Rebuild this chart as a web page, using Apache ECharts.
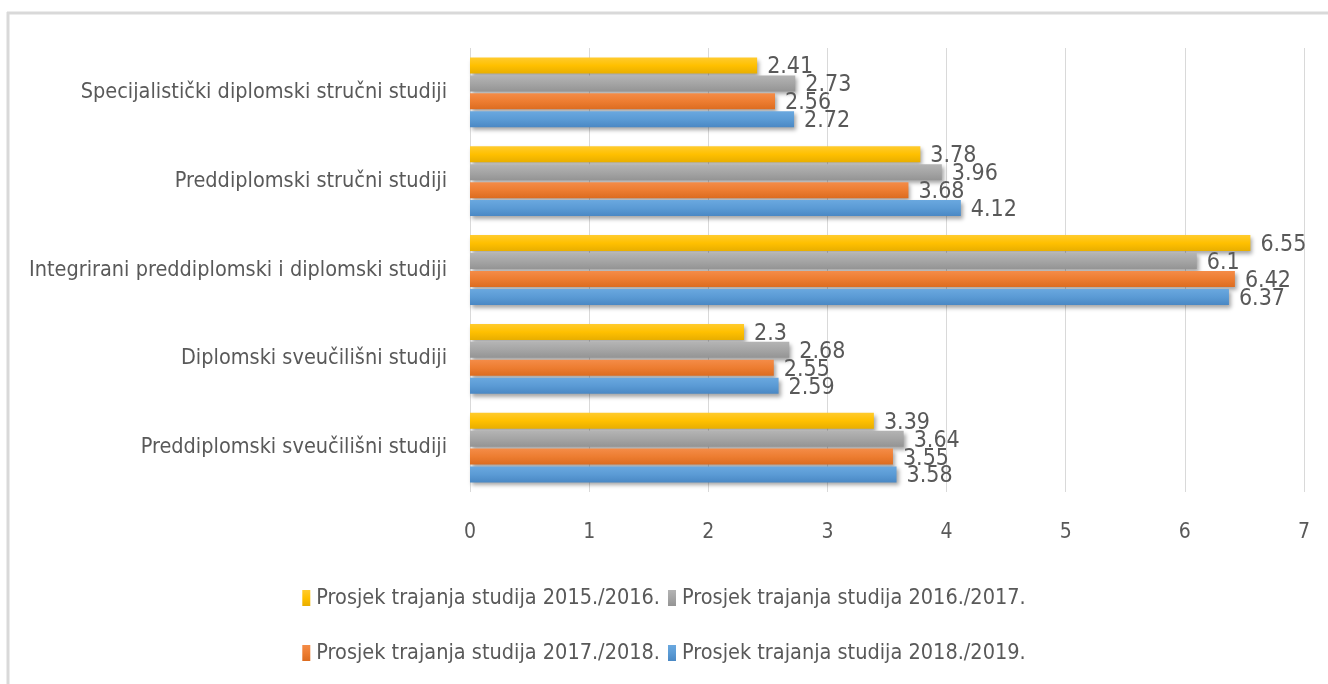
<!DOCTYPE html>
<html>
<head>
<meta charset="utf-8">
<script src="https://cdn.jsdelivr.net/npm/echarts@6/dist/echarts.min.js"></script>
<style>
html,body{margin:0;padding:0;background:#fff;}
#c{width:1328px;height:684px;}
</style>
</head>
<body>
<div id="c"></div>
<script>
// categories bottom -> top (ECharts category yAxis starts at bottom)
const categories = [
  'Preddiplomski sveučilišni studiji',
  'Diplomski sveučilišni studiji',
  'Integrirani preddiplomski i diplomski studiji',
  'Preddiplomski stručni studiji',
  'Specijalistički diplomski stručni studiji'
];
const seriesNames = [
  'Prosjek trajanja studija 2015./2016.',
  'Prosjek trajanja studija 2016./2017.',
  'Prosjek trajanja studija 2017./2018.',
  'Prosjek trajanja studija 2018./2019.'
];
const v2015 = [3.39, 2.3, 6.55, 3.78, 2.41];
const v2016 = [3.64, 2.68, 6.1, 3.96, 2.73];
const v2017 = [3.55, 2.55, 6.42, 3.68, 2.56];
const v2018 = [3.58, 2.59, 6.37, 4.12, 2.72];
const xTicks = [0, 1, 2, 3, 4, 5, 6, 7];

const FONT = '"Liberation Sans Narrow", "DejaVu Sans Condensed", "Liberation Sans", sans-serif';
const TXT = '#595959';

function grad(top, mid, bottom) {
  return new echarts.graphic.LinearGradient(0, 0, 0, 1, [
    {offset: 0, color: top}, {offset: 0.5, color: mid}, {offset: 1, color: bottom}
  ]);
}
const styles = [
  grad('#ffcb2e', '#ffc000', '#e8ae00'),
  grad('#b4b4b4', '#a5a5a5', '#949494'),
  grad('#f48c48', '#ed7d31', '#dc6c20'),
  grad('#6aa8df', '#5b9bd5', '#4a88c4')
];
const data = [v2015, v2016, v2017, v2018];

function mk(i) {
  return {
    name: seriesNames[i],
    type: 'bar',
    data: data[i],
    barWidth: 16,
    barGap: '12%',
    itemStyle: {
      color: styles[i],
      shadowColor: 'rgba(0,0,0,0.35)',
      shadowBlur: 4,
      shadowOffsetX: 2,
      shadowOffsetY: 3
    },
    label: {
      show: true,
      position: 'right',
      distance: 10,
      color: TXT,
      fontFamily: FONT,
      fontSize: 23,
      offset: [0, 2]
    }
  };
}

const legendText = {color: TXT, fontSize: 21.5, fontFamily: FONT, padding: [0, 0, 0, 1]};

const chart = echarts.init(document.getElementById('c'));
chart.setOption({
  animation: false,
  backgroundColor: '#fff',
  textStyle: {fontFamily: FONT},
  grid: {left: 470, right: 24, top: 48, bottom: 192},
  xAxis: {
    type: 'value', min: 0, max: 7, interval: 1,
    axisLine: {show: false}, axisTick: {show: false},
    splitLine: {lineStyle: {color: '#d9d9d9', width: 1}},
    axisLabel: {color: TXT, fontSize: 21, fontFamily: FONT, margin: 30,
      formatter: v => xTicks.indexOf(v) >= 0 ? String(v) : ''}
  },
  yAxis: {
    type: 'category', data: categories,
    axisLine: {show: false}, axisTick: {show: false},
    axisLabel: {color: TXT, fontSize: 21.5, fontFamily: FONT, margin: 23}
  },
  legend: [
    {data: [seriesNames[0], seriesNames[1]], left: 'center', top: 582,
     itemWidth: 8, itemHeight: 16, itemGap: 8, icon: 'rect', textStyle: legendText},
    {data: [seriesNames[2], seriesNames[3]], left: 'center', top: 637,
     itemWidth: 8, itemHeight: 16, itemGap: 8, icon: 'rect', textStyle: legendText}
  ],
  graphic: [
    {type: 'line', shape: {x1: 7, y1: 13, x2: 1328, y2: 13}, style: {stroke: '#d9d9d9', lineWidth: 3}},
    {type: 'line', shape: {x1: 8, y1: 12, x2: 8, y2: 684}, style: {stroke: '#d9d9d9', lineWidth: 3}}
  ],
  series: [mk(0), mk(1), mk(2), mk(3)]
});
</script>
</body>
</html>
